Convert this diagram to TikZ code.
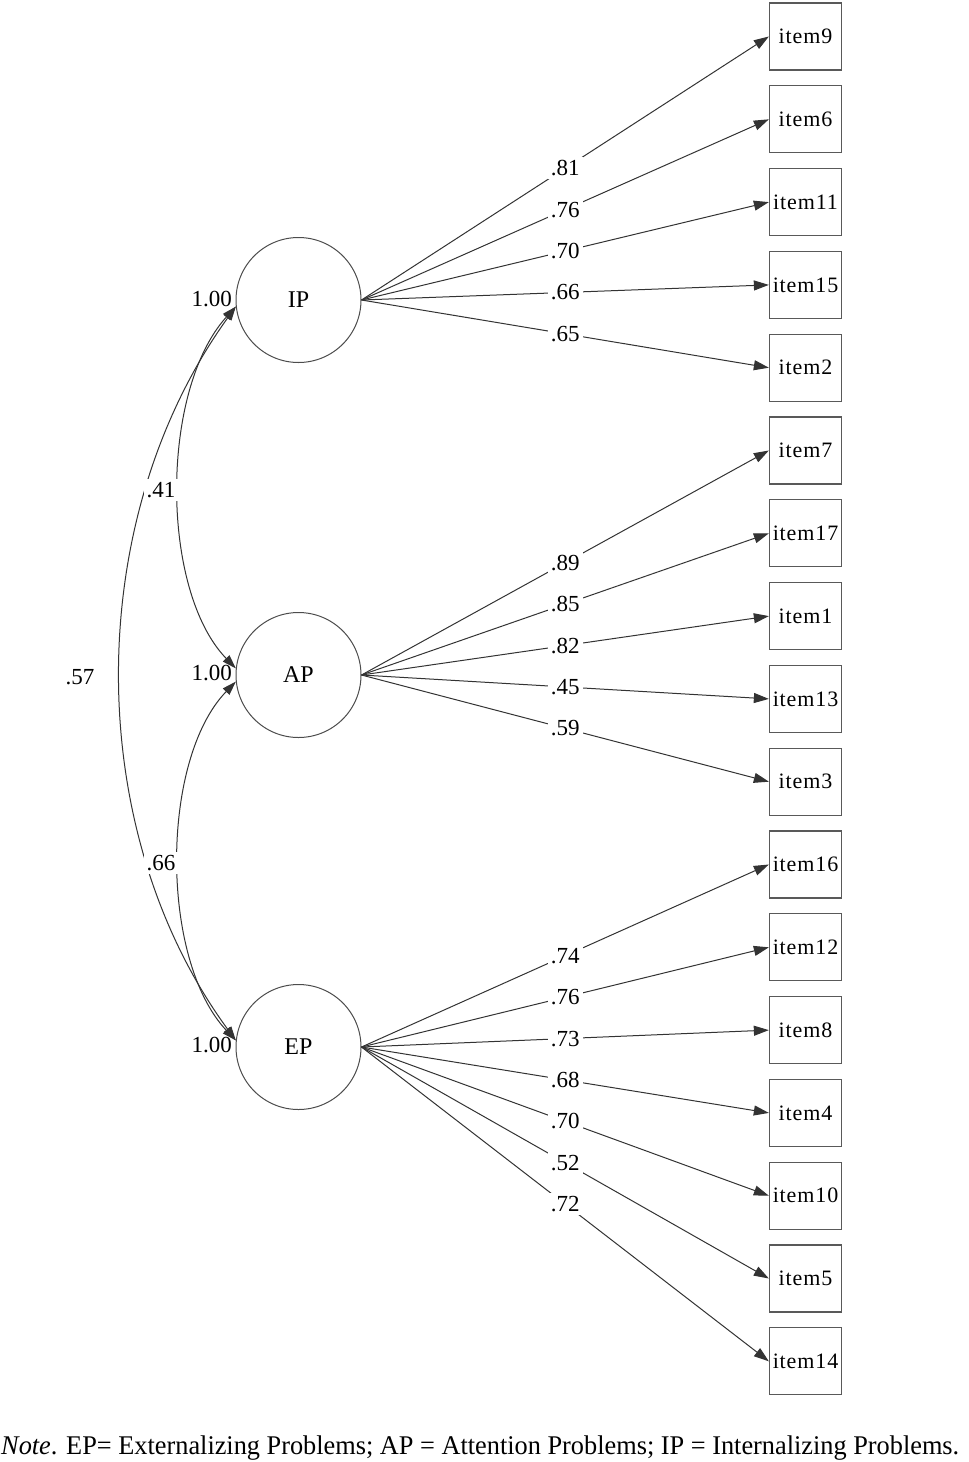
\documentclass[tikz,border=0pt]{standalone}
\usepackage{graphicx}
\usepackage{fontspec}
\setmainfont{Liberation Serif}
\usetikzlibrary{arrows.meta}
\begin{document}
\begin{tikzpicture}[x=1pt,y=-1pt,
  lat/.style={circle,draw=black!70,line width=1pt,minimum size=125pt,inner sep=0pt,font=\fontsize{24}{26}\selectfont},
  obs/.style={rectangle,draw=black!65,line width=1.3pt,minimum width=72pt,minimum height=67pt,inner sep=0pt,font=\fontsize{22}{24}\selectfont\addfontfeatures{LetterSpace=4}},
  load/.style={draw=black!80,line width=1pt,-{Triangle[length=15pt,width=10pt]}},
  cov/.style={draw=black!80,line width=1pt,{Triangle[length=14pt,width=9pt]}-{Triangle[length=14pt,width=9pt]}},
  lbl/.style={fill=white,inner sep=3pt,font=\fontsize{23}{25}\selectfont},
  vlbl/.style={inner sep=0pt,font=\fontsize{23}{25}\selectfont}]
\useasboundingbox (0,0) rectangle (969,1462);

% latent factors
\node[lat] (IP) at (298.5,300) {IP};
\node[lat] (AP) at (298.5,675) {AP};
\node[lat] (EP) at (298.5,1047) {EP};

% observed items
\foreach \n [count=\i from 0] in {9,6,11,15,2,7,17,1,13,3,16,12,8,4,10,5,14}
  \node[obs] (item\n) at (805.5,36.5+82.8*\i) {item\n};

% loadings
\foreach \it/\v in {9/.81,6/.76,11/.70,15/.66,2/.65}
  \draw[load] (IP.east) -- node[lbl]{\v} (item\it.west);
\foreach \it/\v in {7/.89,17/.85,1/.82,13/.45,3/.59}
  \draw[load] (AP.east) -- node[lbl]{\v} (item\it.west);
\foreach \it/\v in {16/.74,12/.76,8/.73,4/.68,10/.70,5/.52,14/.72}
  \draw[load] (EP.east) -- node[lbl]{\v} (item\it.west);

% covariances
\draw[cov] (IP.186) .. controls (160,390) and (160,590) .. (AP.174);
\draw[cov] (AP.186) .. controls (160,760) and (160,960) .. (EP.174);
\draw[cov] (IP.186) .. controls (82,520) and (82,830) .. (EP.174);

\node[lbl] (c41) at (161,490) {.41};
\node[lbl] (c66) at (161,863) {.66};
\node[vlbl] (c57) at (80,677) {.57};

% variances
\node[vlbl,anchor=east] (vIP) at (232,299) {1.00};
\node[vlbl,anchor=east] (vAP) at (232,673) {1.00};
\node[vlbl,anchor=east] (vEP) at (232,1045) {1.00};

% note
\node[anchor=base west,inner sep=0pt] (note) at (1,1454)
  {\resizebox{958pt}{\height}{\fontsize{27}{29}\selectfont\textit{Note}. EP= Externalizing Problems; AP = Attention Problems; IP = Internalizing Problems.}};
\end{tikzpicture}
\end{document}
